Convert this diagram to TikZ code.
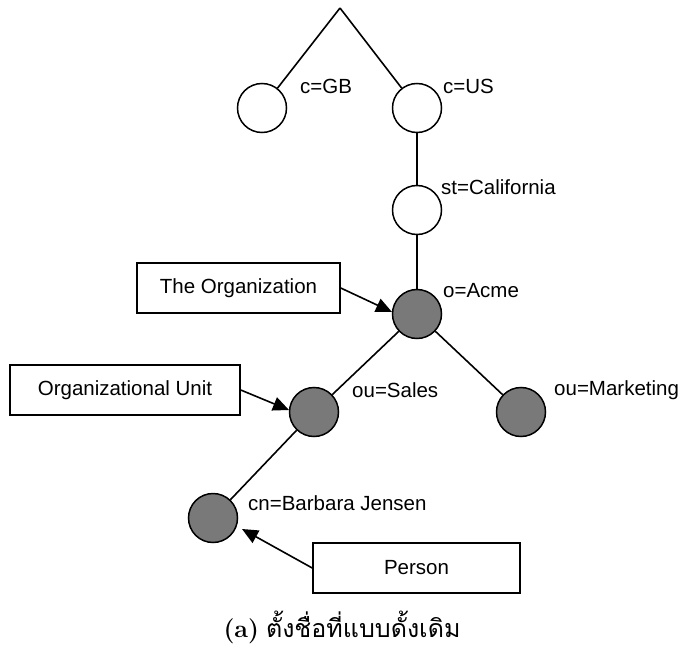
\documentclass[tikz,border=0pt]{standalone}
\usepackage{fontspec}
\setmainfont{Liberation Sans}
\newfontfamily\thaifont[Script=Thai]{Loma}
\newfontfamily\capfont{Latin Modern Roman}
\usetikzlibrary{arrows.meta}
\begin{document}
\begin{tikzpicture}[x=1pt,y=-1pt,
  entry/.style={circle,draw,line width=1.5pt,minimum size=49pt,inner sep=0pt},
  plain/.style={entry,fill=white},
  filled/.style={entry,fill=gray!95!black},
  tag/.style={anchor=west,font=\fontsize{20.5}{22}\selectfont,inner sep=0pt},
  kind/.style={draw,line width=1.5pt,font=\fontsize{20.5}{22}\selectfont,inner sep=0pt},
  edge/.style={line width=1.6pt},
  pointer/.style={line width=1.6pt,-{Triangle[length=16pt,width=14pt]}}]
\useasboundingbox (0,0) rectangle (685,655);
% directory tree
\coordinate (top) at (340,8);
\node[plain] (gb) at (262,108) {};
\node[plain] (us) at (417,108) {};
\node[plain] (ca) at (417,210) {};
\node[filled] (acme) at (417,314) {};
\node[filled] (sales) at (314,412) {};
\node[filled] (mkt) at (521,412) {};
\node[filled] (bj) at (213,518) {};
\draw[edge] (top) -- (gb);
\draw[edge] (top) -- (us);
\draw[edge] (us) -- (ca);
\draw[edge] (ca) -- (acme);
\draw[edge] (acme) -- (sales);
\draw[edge] (acme) -- (mkt);
\draw[edge] (sales) -- (bj);
% entry names
\node[tag] (lgb) at (300,86) {c=GB};
\node[tag] (lus) at (443,86) {c=US};
\node[tag] (lca) at (441,187) {st=California};
\node[tag] (lacme) at (443,291) {o=Acme};
\node[tag] (lsales) at (352,390) {ou=Sales};
\node[tag] (lmkt) at (554,390) {ou=Marketing};
\node[tag] (lbj) at (248,503) {cn=Barbara Jensen};
% object classes
\node[kind,minimum width=203pt,minimum height=50pt] (org) at (238.5,288) {The Organization};
\node[kind,minimum width=230pt,minimum height=50pt] (unit) at (125,390) {Organizational Unit};
\node[kind,minimum width=207pt,minimum height=50pt] (person) at (416.5,568) {Person};
\draw[pointer] (org.east) -- (392,312);
\draw[pointer] (unit.east) -- (289,410);
\draw[pointer] (person.west) -- (242,529);
% caption
\node[font=\fontsize{25}{30}\selectfont] (cap) at (342,627) {{\capfont\bfseries (a)} {\thaifont ตั้งชื่อที่แบบดั้งเดิม}};
\end{tikzpicture}
\end{document}
